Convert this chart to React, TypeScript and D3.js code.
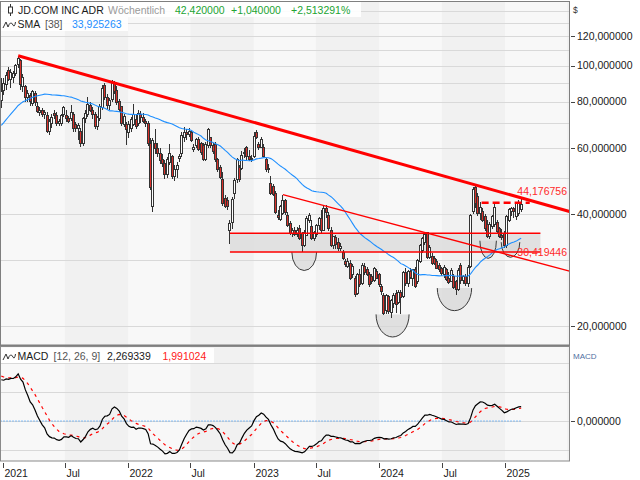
import React from "react";
import * as d3 from "d3";

// ---------- data (weekly candles, week starting Monday) ----------
const FIRST_WEEK = "2020-12-28";
const opens = [
  80.5, 86, 89, 97, 92, 93, 95, 100.5, 103, 88, 88, 82, 83, 79, 84, 77.7, 75, 76, 74, 73.5,
  66.5, 70, 74.5, 73.5, 70, 70, 74, 73.5, 72, 72, 74, 69.4, 68, 66.6, 62, 72, 74, 78, 76, 74,
  68.5, 72.3, 77, 88.5, 82, 78, 81, 90, 86, 80, 77.5, 69.4, 69.4,
  66, 68, 69.5, 71.5, 70, 74, 72.5, 71, 70, 62, 42, 62, 60, 58, 56, 54.5, 51, 55,
  57, 50.5, 52.5, 56.5, 58, 64, 66, 65.5, 66, 59.5, 61, 63.3, 62, 61, 56, 61, 64, 61,
  61.5, 56, 53.3, 49.4, 44, 43.5, 36, 38, 45.4, 49.4, 53.3, 53, 58.5, 60.5, 57, 56,
  57, 66, 61.5, 60.5, 60.5, 55.9, 53, 48.3, 47.3, 45.4, 39.7, 38.6, 40.2, 43.6, 39.7, 37.8,
  35.5, 36, 35.2, 36.5, 35.4, 33, 35.1, 38.5, 37, 34.3, 35.3, 37.3, 38.9, 36.2, 41.4, 39.7,
  36.1, 33, 34.5, 33.6, 32.4, 31.5, 29.8, 28.9, 29.5, 27.5, 26.9, 24.5, 27.5, 26, 28.9, 28.4,
  27.5, 27.2, 26.5, 28.1,
  27.5, 25.5, 24.2, 22, 24, 21.8, 23, 24.5, 23.1, 24.6, 24, 27.8, 26, 28, 26.8, 28.4,
  26.3, 29.8, 32, 33.5, 35.6, 30.5, 30.8, 30.3, 29.8, 29.1, 28.5, 27.5, 28.3, 26.8, 26.4, 27.2,
  26.3, 25.1, 29, 26.5, 27.1, 26, 28.9, 40.5, 47, 44.5, 40, 40.5, 39.3, 37.5, 34.9, 37,
  37.5, 38, 36.5, 35,
  35.5, 33, 38.5, 40.5, 41.4, 39.3, 40.2, 41.2,
];
const highs = [
  92.5, 92.5, 96, 99, 98, 96.5, 101, 106.3, 104, 95, 89, 86, 84.5, 86, 85.5, 80, 77.5, 77, 76, 75,
  72, 74, 76, 75, 72, 74, 78, 76, 73.5, 78.5, 75, 70.5, 70, 68, 73, 76, 82.5, 80, 77.5, 75,
  73.5, 79, 89, 90, 84, 82, 91.5, 91, 88, 81.5, 78, 74, 70.5,
  71, 73, 79, 74, 76, 75.5, 74.5, 72, 71, 64, 64, 67.5, 62, 60, 58, 56, 57, 61.5,
  57.5, 54, 55, 58, 66.5, 68.5, 67.5, 68, 67, 61.5, 64, 64.5, 62.5, 62, 62.5, 68, 64.5, 62,
  62.5, 56.5, 54, 52, 45, 44.5, 38.5, 44.5, 50, 56.5, 54, 59, 60, 61, 59.5, 57.5,
  66.5, 67, 62.5, 64.5, 61.5, 56.5, 54.5, 50.5, 48, 46, 41, 42.2, 45.1, 44, 40.5, 38.3,
  36.6, 36.8, 36.8, 37.4, 35.8, 36.3, 39.4, 40.2, 38.5, 35.9, 37.6, 39.3, 40.9, 42, 42.3, 40.5,
  36.8, 35, 35.2, 34.5, 33.4, 32, 30.3, 30.5, 30, 29.3, 27.2, 27.8, 28.5, 29.5, 29.6, 28.8,
  27.9, 27.6, 28.9, 28.5,
  27.8, 26, 24.6, 24.4, 24.3, 23.6, 24.5, 25, 25, 25, 28.2, 28.7, 28.3, 28.6, 28.5, 28.8,
  30.3, 33.3, 34.6, 35.5, 35.8, 33, 31.4, 30.8, 30.2, 29.5, 28.9, 29.1, 28.6, 27.9, 28.6, 27.6,
  26.6, 28.6, 29.5, 27.5, 27.6, 29.2, 40, 47.2, 47.9, 45.5, 43, 41.5, 40, 38.5, 38, 39.7,
  43.1, 38.5, 37, 36.5,
  36, 39.7, 41.5, 41.8, 41.8, 43, 43.5, 43.9,
];
const lows = [
  77, 83.6, 86, 91, 87, 90, 94, 98.5, 86, 85, 80, 80, 78, 78, 78, 74.5, 73.5, 73, 72, 65.8,
  65, 68, 72, 69, 69, 69, 73, 70.5, 70, 71, 66.5, 66.5, 63, 60.5, 61, 70, 73, 75, 72, 67.5,
  67, 71, 76, 81, 76.5, 76, 80, 84, 78.5, 75, 68.7, 68.5, 61.4,
  64, 66.5, 69, 67.5, 69, 70, 70, 68.5, 61, 46.5, 40.5, 58, 57, 54.5, 53.5, 49.5, 50, 54,
  49.5, 49, 49.8, 55, 57, 62.5, 63, 64.5, 62.5, 58.5, 60, 59, 57.5, 55.5, 55.5, 60, 60, 58,
  55, 52, 49.5, 42, 41.5, 41, 33.2, 36.5, 44, 48.5, 48.8, 52.5, 56.5, 56, 55.5, 55,
  56.5, 63.5, 59.5, 60, 56.5, 52, 51.5, 45, 44.8, 40, 38.5, 38.2, 39.8, 39.8, 36.8, 35.2,
  34.6, 34.8, 34.6, 34, 31.6, 32.6, 34.8, 37.8, 34, 33.8, 34.6, 36.3, 35.4, 36, 38.9, 36,
  32.6, 32.3, 32.3, 31.9, 31.8, 30, 28.8, 28.6, 26.6, 27, 24, 24.2, 25.5, 25.8, 27.5, 27.2,
  25.5, 26, 26.3, 26.7,
  25.5, 24.3, 21.4, 21.5, 21.5, 21, 22.4, 21.7, 22.9, 21.5, 23.8, 25.7, 25.5, 26.8, 25.6, 25.3,
  26, 29.5, 31.5, 33, 30.2, 30.2, 29.2, 29.2, 28.4, 28, 27.3, 26.9, 26.4, 25.9, 26.2, 25.1,
  24.3, 24.9, 26, 26, 25.6, 25.5, 28.7, 40, 41.5, 39.5, 38.5, 38, 36, 34.5, 34.3, 36.5,
  37, 35.5, 34.5, 34,
  32.5, 32.5, 38, 39.5, 38.9, 38.5, 39.5, 40.6,
];
const closes = [
  85.5, 89.5, 94, 92, 96, 95, 100, 104.5, 89, 93, 82, 84, 80, 85, 79.5, 75.3, 76, 74, 75, 66.6,
  70.8, 72.5, 73.5, 70, 71, 73.5, 77, 72, 71, 75, 68, 68, 69, 62, 72.3, 74.5, 78.5, 76, 74, 68.7,
  72.5, 77.7, 87, 82, 78, 80.5, 90.4, 85, 79.5, 76.5, 70, 73, 67.3,
  69.4, 71.5, 73.8, 68.8, 74.5, 72.5, 71, 70, 62, 47, 63, 60, 58, 55.5, 54.5, 51, 56, 58,
  50.5, 52.5, 54, 57, 65, 66, 65.5, 66.5, 62.8, 60.5, 63.5, 59.5, 58.5, 56, 61.5, 67.5, 61, 59,
  56, 52.6, 50.2, 42.7, 42, 41.9, 37.8, 43.8, 49.2, 55.9, 49.6, 57.5, 58.1, 57, 56, 56.5,
  64.5, 64, 60.5, 63.3, 57, 52.6, 53, 45.4, 45.2, 40.4, 39.2, 41.8, 43.6, 40.3, 37.2, 35.5,
  36.1, 35.2, 36.1, 34.3, 33, 35.7, 38.9, 39.7, 34.3, 35.7, 37.3, 38.9, 36, 41.4, 40.3, 36.5,
  33, 34.7, 33.2, 32.3, 32.7, 30.3, 29.2, 29.8, 26.9, 28.9, 24.3, 27.5, 25.8, 29, 27.8, 27.5,
  25.8, 26.3, 28.6, 26.9,
  25.8, 24.7, 21.6, 24.1, 21.9, 23.4, 24.2, 22.9, 24.6, 23.9, 27.8, 26.1, 28, 27, 28.3, 25.6,
  30, 33, 34.3, 35.2, 30.5, 32.5, 29.5, 29.5, 28.6, 28.3, 27.7, 28.8, 26.7, 26.2, 28.2, 25.4,
  25, 28.2, 26.5, 27.1, 26, 28.7, 39.7, 46.5, 42.7, 40.2, 41.5, 38.5, 36.5, 34.9, 37.5, 39.3,
  41.5, 35.8, 34.9, 34.5,
  33, 39.3, 41, 41.4, 40.5, 42.7, 42.9, 42.42,
];
// weekly closes of 2020, before the visible range (only used to warm up SMA / MACD)
const warmupCloses = [
  37.5, 38.5, 38.2, 37.5, 36.3, 38.5, 40.2, 41, 40.5, 40.8, 39.5, 36, 37.5, 40.5,
  42, 43, 43.5, 44, 45.5, 47, 50, 53.5, 55, 58, 60.5, 61, 60.8, 63, 64.5, 62, 63.5,
  64, 64.5, 68, 77, 78.5, 76, 74, 74.5, 78, 80, 81, 82, 81.5, 84, 83, 86.5, 87.5, 85,
  86, 87.5, 88,
];
const SMA_PERIOD = 38;
const MACD_FAST = 12;
const MACD_SLOW = 26;
const MACD_SIGNAL = 9;

const xTickDates = ["2021-01-01", "2021-07-01", "2022-01-01", "2022-07-01", "2023-01-01", "2023-07-01", "2024-01-01", "2024-07-01", "2025-01-01"];
const xTickLabels = ["2021", "Jul", "2022", "Jul", "2023", "Jul", "2024", "Jul", "2025"];
const darkBands = [["2021-07-01", "2022-01-01"], ["2022-07-01", "2023-01-01"], ["2023-07-01", "2024-01-01"], ["2024-07-01", "2025-01-01"], ["2025-07-01", "2026-01-01"]];
const priceGrid = [20, 30, 40, 50, 60, 70, 80, 90, 100, 110, 120, 130, 140];
const priceLabels = [20, 40, 60, 80, 100, 120];
const macdGrid = [-5, 0, 5, 10];
const macdLabels = [0];

const trendMain = [{ date: "2021-02-15", value: 106.3 }, { date: "2025-02-17", value: 44.176756 }];
const trendLower = [{ date: "2023-03-27", value: 45.1 }, { date: "2025-02-17", value: 30.419446 }];
const resistance = { from: "2024-10-25", to: "2025-03-14", value: 42.9 };
const zone = { from: "2022-10-24", to: "2025-04-14", top: 35.5, bottom: 31.6 };
const bowls = [
  { center: "2023-05-28", halfDays: 36, top: 31.6, bottom: 28.2 },
  { center: "2024-02-09", halfDays: 48, top: 21.5, bottom: 18.7 },
  { center: "2024-08-07", halfDays: 50, top: 25.3, bottom: 22.0 },
  { center: "2024-11-13", halfDays: 24, top: 33.9, bottom: 30.4 },
  { center: "2025-01-17", halfDays: 27, top: 33.6, bottom: 30.6 },
];

const legendTitle = ["JD.COM INC ADR", "Wöchentlich", "42,420000", "+1,040000", "+2,513291%"];
const legendSma = ["SMA", "[38]", "33,925263"];
const legendMacd = ["MACD", "[12, 26, 9]", "2,269339", "1,991024"];

// ---------- layout ----------
const W = 640, H = 480;
const PL = 0.5, PR = 569.5;
const MT = 1.5, MB = 345;
const QT = 347, QB = 461;
const FONT = "'Liberation Sans', Arial, sans-serif";

const parse = d3.utcParse("%Y-%m-%d");
const de = d3.formatLocale({ decimal: ",", thousands: ".", grouping: [3], currency: ["", "$"] });
const fmt6 = de.format(".6f");

function smaCalc(values: number[], n: number) {
  return values.map((_, i) => (i < n - 1 ? null : (d3.mean(values.slice(i - n + 1, i + 1)) as number)));
}
function emaCalc(values: number[], n: number) {
  const k = 2 / (n + 1);
  let prev = values[0];
  return values.map((v, i) => {
    prev = i === 0 ? v : v * k + prev * (1 - k);
    return prev;
  });
}

export default function App() {
  const first = parse(FIRST_WEEK) as Date;
  const dates = closes.map((_, i) => d3.utcDay.offset(first, 7 * i));
  const x = d3.scaleUtc().domain([parse("2021-01-01") as Date, parse("2025-01-01") as Date]).range([2.7, 505]);
  const y = d3.scaleLog().domain([20, 120]).range([326.1, 36.2]);
  const ym = d3.scaleLinear().domain([0, 5]).range([421, 392]);

  const all = warmupCloses.concat(closes);
  const off = warmupCloses.length;
  const smaAll = smaCalc(all, SMA_PERIOD).slice(off);
  const e12 = emaCalc(all, MACD_FAST);
  const e26 = emaCalc(all, MACD_SLOW);
  const macdAll = e12.map((v, i) => v - e26[i]);
  const sigAll = emaCalc(macdAll, MACD_SIGNAL);
  const macd = macdAll.slice(off);
  const signal = sigAll.slice(off);

  const smaLine = d3.line<number | null>()
    .defined((d) => d !== null)
    .x((_, i) => x(dates[i]))
    .y((d) => y(d as number));
  const mLine = d3.line<number>().x((_, i) => x(dates[i])).y((d) => ym(d));

  const lastX = x(dates[dates.length - 1]);

  const extLine = (pts: { date: string; value: number }[]) => {
    const x1 = x(parse(pts[0].date) as Date), y1 = y(pts[0].value);
    const x2 = x(parse(pts[1].date) as Date), y2 = y(pts[1].value);
    const xe = PR;
    const ye = y1 + ((y2 - y1) * (xe - x1)) / (x2 - x1);
    return { x1, y1, x2, y2, xe, ye };
  };
  const tMain = extLine(trendMain);
  const tLow = extLine(trendLower);

  const zx1 = x(parse(zone.from) as Date), zx2 = x(parse(zone.to) as Date);
  const zy1 = y(zone.top), zy2 = y(zone.bottom);

  return (
    <svg width={W} height={H} style={{ position: "absolute", left: 0, top: 0, background: "#fff" }} fontFamily={FONT}>
      <defs>
        <clipPath id="mainClip"><rect x={PL} y={MT} width={PR - PL} height={MB - MT} /></clipPath>
        <clipPath id="macdClip"><rect x={PL} y={QT} width={PR - PL} height={QB - QT} /></clipPath>
      </defs>

      {/* panel backgrounds */}
      <rect x={PL} y={MT} width={PR - PL} height={MB - MT} fill="#f8f8f8" />
      <rect x={PL} y={QT} width={PR - PL} height={QB - QT} fill="#f8f8f8" />
      <g clipPath="url(#mainClip)">
        {darkBands.map((b, i) => (
          <rect key={i} x={x(parse(b[0]) as Date)} y={MT} width={x(parse(b[1]) as Date) - x(parse(b[0]) as Date)} height={MB - MT} fill="#f1f1f1" />
        ))}
      </g>
      <g clipPath="url(#macdClip)">
        {darkBands.map((b, i) => (
          <rect key={i} x={x(parse(b[0]) as Date)} y={QT} width={x(parse(b[1]) as Date) - x(parse(b[0]) as Date)} height={QB - QT} fill="#f1f1f1" />
        ))}
      </g>

      {/* gridlines */}
      <g clipPath="url(#mainClip)">
        {priceGrid.map((v) => (
          <line key={v} x1={PL} x2={PR} y1={Math.round(y(v)) + 0.5} y2={Math.round(y(v)) + 0.5} stroke="#d9d9d9" strokeWidth={1} />
        ))}
      </g>
      <g clipPath="url(#macdClip)">
        {macdGrid.map((v) => (
          <line key={v} x1={PL} x2={PR} y1={Math.round(ym(v)) + 0.5} y2={Math.round(ym(v)) + 0.5} stroke="#d9d9d9" strokeWidth={1} />
        ))}
      </g>

      {/* legend backgrounds */}
      <rect x={1} y={2} width={360} height={15} fill="#ffffff" opacity={0.92} />
      <rect x={1} y={17} width={127} height={14} fill="#ffffff" opacity={0.92} />
      <rect x={1} y={348} width={213} height={15} fill="#ffffff" opacity={0.92} />

      {/* annotations under candles */}
      <g clipPath="url(#mainClip)">
        <rect x={zx1} y={zy1} width={zx2 - zx1} height={zy2 - zy1} fill="#d9d9d9" opacity={0.75} />
        {bowls.map((b, i) => {
          const c = parse(b.center) as Date;
          const cx = x(c);
          const rx = x(d3.utcDay.offset(c, b.halfDays)) - cx;
          const yt = y(b.top);
          const ry = y(b.bottom) - yt;
          return (
            <path key={i} d={`M${cx - rx},${yt} A${rx},${ry} 0 0 0 ${cx + rx},${yt}`} fill="#d6d6d6" fillOpacity={0.7} stroke="#3a3a3a" strokeWidth={1} />
          );
        })}
      </g>

      {/* candles */}
      <g clipPath="url(#mainClip)">
        {dates.map((d, i) => {
          const cx = x(d);
          const o = opens[i], c = closes[i];
          const up = c >= o;
          const top = y(Math.max(o, c));
          const bot = y(Math.min(o, c));
          return (
            <g key={i}>
              <line x1={cx} x2={cx} y1={y(highs[i])} y2={y(lows[i])} stroke="#333" strokeWidth={1} shapeRendering="crispEdges" />
              <rect x={cx - 1} y={top} width={2} height={Math.max(bot - top, 1)} fill={up ? "#ffffff" : "#d8302a"} stroke="#333" strokeWidth={1} shapeRendering="crispEdges" />
            </g>
          );
        })}
      </g>

      {/* SMA & lines over candles */}
      <g clipPath="url(#mainClip)">
        <path d={smaLine(smaAll) || ""} fill="none" stroke="#1e8fff" strokeWidth={1.1} />
        <line x1={zx1} x2={zx2} y1={zy1} y2={zy1} stroke="#ff0000" strokeWidth={1.5} />
        <line x1={zx1} x2={zx2} y1={zy2} y2={zy2} stroke="#ff0000" strokeWidth={1.5} />
        <line x1={tLow.x1} y1={tLow.y1} x2={tLow.xe} y2={tLow.ye} stroke="#ff0000" strokeWidth={1.3} />
        <line x1={tMain.x1} y1={tMain.y1} x2={tMain.xe} y2={tMain.ye} stroke="#ff0000" strokeWidth={3} />
        <line x1={x(parse(resistance.from) as Date)} x2={x(parse(resistance.to) as Date)} y1={y(resistance.value)} y2={y(resistance.value)} stroke="#ff0000" strokeWidth={2.5} strokeDasharray="7,4" />
        <text x={567} y={tMain.y2 - 2.5} textAnchor="end" fontSize={10.5} fill="#ff2a2a">{fmt6(trendMain[1].value)}</text>
        <text x={567} y={tLow.y2 - 2} textAnchor="end" fontSize={10.5} fill="#ff2a2a">{fmt6(trendLower[1].value)}</text>
      </g>

      {/* MACD */}
      <g clipPath="url(#macdClip)">
        <line x1={PL} x2={lastX} y1={ym(0)} y2={ym(0)} stroke="#1e8fff" strokeWidth={1} strokeDasharray="1,2" />
        <path d={mLine(signal) || ""} fill="none" stroke="#ff0000" strokeWidth={1.2} strokeDasharray="3,4" />
        <path d={mLine(macd) || ""} fill="none" stroke="#000" strokeWidth={1.2} />
      </g>

      {/* frames */}
      <rect x={PL} y={MT} width={PR - PL} height={MB - MT} fill="none" stroke="#7f7f7f" strokeWidth={1} />
      <rect x={0} y={345} width={570} height={1.5} fill="#7f7f7f" />
      <rect x={PL} y={QT - 0.5} width={PR - PL} height={QB - QT + 0.5} fill="none" stroke="#8a8a8a" strokeWidth={1} />

      {/* right axis */}
      <text x={573} y={13} fontSize={8.5} fill="#333">$</text>
      {priceLabels.map((v) => (
        <g key={v}>
          <line x1={571} x2={575} y1={Math.round(y(v)) + 0.5} y2={Math.round(y(v)) + 0.5} stroke="#444" />
          <text x={577} y={y(v)} dy="0.35em" fontSize={10.5} fill="#1a1a1a">{fmt6(v)}</text>
        </g>
      ))}
      <text x={573} y={359} fontSize={8} fill="#4f6f9f">MACD</text>
      {macdLabels.map((v) => (
        <g key={v}>
          <line x1={571} x2={575} y1={Math.round(ym(v)) + 0.5} y2={Math.round(ym(v)) + 0.5} stroke="#444" />
          <text x={577} y={ym(v)} dy="0.35em" fontSize={10.5} fill="#1a1a1a">{fmt6(v)}</text>
        </g>
      ))}

      {/* bottom axis */}
      {xTickDates.map((t, i) => {
        const tx = Math.round(x(parse(t) as Date)) + 0.5;
        return (
          <g key={t}>
            <line x1={tx} x2={tx} y1={463} y2={468} stroke="#444" />
            <text x={tx + 1} y={476.5} fontSize={10.5} fill="#1a1a1a">{xTickLabels[i]}</text>
          </g>
        );
      })}

      {/* legends */}
      <g>
        <line x1={10.5} x2={10.5} y1={4} y2={16} stroke="#333" />
        <rect x={8.5} y={7} width={4} height={6} fill="#fff" stroke="#333" />
        <text x={18} y={14} fontSize={10.5} fill="#1a1a1a">{legendTitle[0]}</text>
        <text x={108} y={14} fontSize={10.5} fill="#9a9a9a">{legendTitle[1]}</text>
        <text x={175} y={14} fontSize={10.5} fill="#22a432">{legendTitle[2]}</text>
        <text x={231} y={14} fontSize={10.5} fill="#22a432">{legendTitle[3]}</text>
        <text x={291} y={14} fontSize={10.5} fill="#22a432">{legendTitle[4]}</text>

        <path d="M3,28 L6,22 L8,27 M8,27 Q10.5,20 13,25 Q14.5,28 15.5,22" fill="none" stroke="#333" strokeWidth={1} />
        <text x={17.5} y={28} fontSize={10.5} fill="#1a1a1a">{legendSma[0]}</text>
        <text x={45} y={28} fontSize={10.5} fill="#555">{legendSma[1]}</text>
        <text x={72} y={28} fontSize={10.5} fill="#1e8fff">{legendSma[2]}</text>

        <path d="M3,360 L6,354 L8,359 M8,359 Q10.5,352 13,357 Q14.5,360 15.5,354" fill="none" stroke="#333" strokeWidth={1} />
        <text x={17.5} y={360} fontSize={10.5} fill="#1a1a1a">{legendMacd[0]}</text>
        <text x={53.5} y={360} fontSize={10.5} fill="#555">{legendMacd[1]}</text>
        <text x={107} y={360} fontSize={10.5} fill="#1a1a1a">{legendMacd[2]}</text>
        <text x={162.5} y={360} fontSize={10.5} fill="#ff2020">{legendMacd[3]}</text>
      </g>
    </svg>
  );
}
